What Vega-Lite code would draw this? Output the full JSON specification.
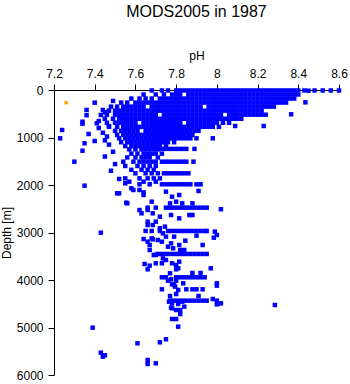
{
"$schema":"https://vega.github.io/schema/vega-lite/v6.json",
"width":285,"height":285,
"autosize":{"type":"none"},
"padding":{"left":54,"top":90,"right":11,"bottom":9},
"title":{"text":"MODS2005 in 1987","font":"Liberation Sans","fontSize":16,"fontWeight":"normal","color":"#000000","offset":29},
"config":{"view":{"stroke":null},"axis":{"grid":false,"domainColor":"#000000","tickColor":"#000000","labelColor":"#000000","titleColor":"#000000","labelFont":"Liberation Sans","titleFont":"Liberation Sans","labelFontSize":12,"titleFontSize":12,"titleFontWeight":"normal","tickSize":6,"domainWidth":1,"tickWidth":1}},
"encoding":{
"x":{"field":"p","type":"quantitative","scale":{"domain":[7.2,8.6],"nice":false,"zero":false},"axis":{"orient":"top","title":"pH","values":[7.2,7.4,7.6,7.8,8,8.2,8.4,8.6],"format":"~g","labelPadding":4,"titlePadding":5,"labelFlush":false}},
"y":{"field":"d","type":"quantitative","scale":{"domain":[0,6000],"reverse":true,"nice":false},"axis":{"title":"Depth [m]","values":[0,1000,2000,3000,4000,5000,6000],"format":"d","labelPadding":5,"titlePadding":3,"labelFlush":false}}
},
"layer":[
{"data":{"values":[
{"p":7.68,"d":10},{"p":7.73,"d":10},{"p":7.76,"d":10},{"p":7.80,"d":10},{"p":7.82,"d":10},{"p":7.84,"d":10},{"p":7.86,"d":10},{"p":7.88,"d":10},{"p":7.90,"d":10},{"p":7.92,"d":10},{"p":7.94,"d":10},{"p":7.96,"d":10},{"p":7.98,"d":10},{"p":8.00,"d":10},{"p":8.02,"d":10},{"p":8.04,"d":10},{"p":8.06,"d":10},{"p":8.08,"d":10},{"p":8.10,"d":10},{"p":8.12,"d":10},{"p":8.14,"d":10},{"p":8.16,"d":10},{"p":8.18,"d":10},{"p":8.20,"d":10},{"p":8.22,"d":10},{"p":8.24,"d":10},{"p":8.26,"d":10},{"p":8.28,"d":10},{"p":8.30,"d":10},{"p":8.32,"d":10},{"p":8.34,"d":10},{"p":8.36,"d":10},{"p":8.38,"d":10},{"p":8.40,"d":10},{"p":8.43,"d":10},{"p":8.45,"d":15},{"p":8.48,"d":10},{"p":8.52,"d":10},{"p":8.56,"d":10},{"p":8.60,"d":10},
{"p":7.64,"d":95},{"p":7.70,"d":95},{"p":7.74,"d":95},{"p":7.78,"d":95},{"p":7.80,"d":95},{"p":7.82,"d":95},{"p":7.86,"d":95},{"p":7.88,"d":95},{"p":7.90,"d":95},{"p":7.92,"d":95},{"p":7.94,"d":95},{"p":7.96,"d":95},{"p":7.98,"d":95},{"p":8.00,"d":95},{"p":8.02,"d":95},{"p":8.04,"d":95},{"p":8.06,"d":95},{"p":8.08,"d":95},{"p":8.10,"d":95},{"p":8.12,"d":95},{"p":8.14,"d":95},{"p":8.16,"d":95},{"p":8.18,"d":95},{"p":8.20,"d":95},{"p":8.22,"d":95},{"p":8.24,"d":95},{"p":8.26,"d":95},{"p":8.28,"d":95},{"p":8.30,"d":95},{"p":8.32,"d":95},{"p":8.34,"d":95},{"p":8.36,"d":95},{"p":8.38,"d":95},{"p":8.40,"d":95},
{"p":7.58,"d":180},{"p":7.62,"d":180},{"p":7.65,"d":180},{"p":7.68,"d":180},{"p":7.72,"d":180},{"p":7.74,"d":180},{"p":7.76,"d":180},{"p":7.78,"d":180},{"p":7.80,"d":180},{"p":7.82,"d":180},{"p":7.84,"d":180},{"p":7.86,"d":180},{"p":7.88,"d":180},{"p":7.90,"d":180},{"p":7.92,"d":180},{"p":7.94,"d":180},{"p":7.96,"d":180},{"p":7.98,"d":180},{"p":8.00,"d":180},{"p":8.02,"d":180},{"p":8.04,"d":180},{"p":8.06,"d":180},{"p":8.08,"d":180},{"p":8.10,"d":180},{"p":8.12,"d":180},{"p":8.14,"d":180},{"p":8.16,"d":180},{"p":8.18,"d":180},{"p":8.20,"d":180},{"p":8.22,"d":180},{"p":8.24,"d":180},{"p":8.26,"d":180},{"p":8.28,"d":180},{"p":8.30,"d":180},{"p":8.32,"d":180},{"p":8.34,"d":180},{"p":8.36,"d":180},{"p":8.38,"d":180},
{"p":7.53,"d":265},{"p":7.56,"d":265},{"p":7.60,"d":265},{"p":7.62,"d":265},{"p":7.64,"d":265},{"p":7.66,"d":265},{"p":7.68,"d":265},{"p":7.70,"d":265},{"p":7.72,"d":265},{"p":7.74,"d":265},{"p":7.76,"d":265},{"p":7.78,"d":265},{"p":7.80,"d":265},{"p":7.82,"d":265},{"p":7.84,"d":265},{"p":7.86,"d":265},{"p":7.88,"d":265},{"p":7.90,"d":265},{"p":7.92,"d":265},{"p":7.94,"d":265},{"p":7.96,"d":265},{"p":7.98,"d":265},{"p":8.00,"d":265},{"p":8.02,"d":265},{"p":8.04,"d":265},{"p":8.06,"d":265},{"p":8.08,"d":265},{"p":8.10,"d":265},{"p":8.12,"d":265},{"p":8.14,"d":265},{"p":8.16,"d":265},{"p":8.18,"d":265},{"p":8.20,"d":265},{"p":8.22,"d":265},{"p":8.24,"d":265},{"p":8.26,"d":265},{"p":8.28,"d":265},{"p":8.30,"d":265},{"p":8.32,"d":265},{"p":8.34,"d":265},{"p":8.435,"d":260},
{"p":7.48,"d":350},{"p":7.51,"d":350},{"p":7.54,"d":350},{"p":7.56,"d":350},{"p":7.58,"d":350},{"p":7.60,"d":350},{"p":7.62,"d":350},{"p":7.64,"d":350},{"p":7.68,"d":350},{"p":7.70,"d":350},{"p":7.72,"d":350},{"p":7.74,"d":350},{"p":7.76,"d":350},{"p":7.78,"d":350},{"p":7.80,"d":350},{"p":7.82,"d":350},{"p":7.84,"d":350},{"p":7.86,"d":350},{"p":7.88,"d":350},{"p":7.90,"d":350},{"p":7.92,"d":350},{"p":7.96,"d":350},{"p":7.98,"d":350},{"p":8.00,"d":350},{"p":8.02,"d":350},{"p":8.04,"d":350},{"p":8.06,"d":350},{"p":8.08,"d":350},{"p":8.10,"d":350},{"p":8.12,"d":350},{"p":8.14,"d":350},{"p":8.16,"d":350},{"p":8.18,"d":350},{"p":8.20,"d":350},{"p":8.22,"d":350},{"p":8.24,"d":350},{"p":8.26,"d":350},{"p":8.28,"d":350},
{"p":7.47,"d":435},{"p":7.50,"d":435},{"p":7.52,"d":435},{"p":7.54,"d":435},{"p":7.56,"d":435},{"p":7.58,"d":435},{"p":7.60,"d":435},{"p":7.62,"d":435},{"p":7.64,"d":435},{"p":7.66,"d":435},{"p":7.68,"d":435},{"p":7.70,"d":435},{"p":7.72,"d":435},{"p":7.74,"d":435},{"p":7.76,"d":435},{"p":7.78,"d":435},{"p":7.80,"d":435},{"p":7.82,"d":435},{"p":7.84,"d":435},{"p":7.86,"d":435},{"p":7.88,"d":435},{"p":7.90,"d":435},{"p":7.92,"d":435},{"p":7.94,"d":435},{"p":7.96,"d":435},{"p":7.98,"d":435},{"p":8.00,"d":435},{"p":8.02,"d":435},{"p":8.04,"d":435},{"p":8.06,"d":435},{"p":8.08,"d":435},{"p":8.10,"d":435},{"p":8.12,"d":435},{"p":8.14,"d":435},{"p":8.16,"d":435},{"p":8.18,"d":435},{"p":8.20,"d":435},{"p":8.22,"d":435},
{"p":7.46,"d":520},{"p":7.50,"d":520},{"p":7.52,"d":520},{"p":7.54,"d":520},{"p":7.56,"d":520},{"p":7.58,"d":520},{"p":7.60,"d":520},{"p":7.62,"d":520},{"p":7.64,"d":520},{"p":7.66,"d":520},{"p":7.68,"d":520},{"p":7.70,"d":520},{"p":7.74,"d":520},{"p":7.76,"d":520},{"p":7.78,"d":520},{"p":7.80,"d":520},{"p":7.82,"d":520},{"p":7.84,"d":520},{"p":7.86,"d":520},{"p":7.88,"d":520},{"p":7.90,"d":520},{"p":7.92,"d":520},{"p":7.94,"d":520},{"p":7.96,"d":520},{"p":7.98,"d":520},{"p":8.00,"d":520},{"p":8.02,"d":520},{"p":8.06,"d":520},{"p":8.08,"d":520},{"p":8.10,"d":520},{"p":8.12,"d":520},{"p":8.14,"d":520},{"p":8.16,"d":520},{"p":8.18,"d":520},{"p":8.20,"d":520},{"p":8.22,"d":520},{"p":8.24,"d":520},{"p":8.365,"d":512},
{"p":7.45,"d":605},{"p":7.49,"d":605},{"p":7.52,"d":605},{"p":7.54,"d":605},{"p":7.56,"d":605},{"p":7.58,"d":605},{"p":7.60,"d":605},{"p":7.62,"d":605},{"p":7.64,"d":605},{"p":7.66,"d":605},{"p":7.68,"d":605},{"p":7.70,"d":605},{"p":7.72,"d":605},{"p":7.74,"d":605},{"p":7.76,"d":605},{"p":7.78,"d":605},{"p":7.80,"d":605},{"p":7.82,"d":605},{"p":7.84,"d":605},{"p":7.86,"d":605},{"p":7.88,"d":605},{"p":7.90,"d":605},{"p":7.92,"d":605},{"p":7.94,"d":605},{"p":7.96,"d":605},{"p":7.98,"d":605},{"p":8.00,"d":605},{"p":8.02,"d":605},{"p":8.04,"d":605},{"p":8.06,"d":605},{"p":8.08,"d":605},{"p":8.10,"d":605},{"p":8.12,"d":605},
{"p":7.46,"d":690},{"p":7.50,"d":690},{"p":7.52,"d":690},{"p":7.54,"d":690},{"p":7.56,"d":690},{"p":7.58,"d":690},{"p":7.60,"d":690},{"p":7.64,"d":690},{"p":7.66,"d":690},{"p":7.68,"d":690},{"p":7.70,"d":690},{"p":7.72,"d":690},{"p":7.74,"d":690},{"p":7.76,"d":690},{"p":7.78,"d":690},{"p":7.80,"d":690},{"p":7.82,"d":690},{"p":7.86,"d":690},{"p":7.88,"d":690},{"p":7.90,"d":690},{"p":7.92,"d":690},{"p":7.94,"d":690},{"p":7.96,"d":690},{"p":7.98,"d":690},{"p":8.00,"d":690},{"p":8.03,"d":690},{"p":8.06,"d":690},
{"p":7.47,"d":775},{"p":7.51,"d":775},{"p":7.54,"d":775},{"p":7.56,"d":775},{"p":7.58,"d":775},{"p":7.60,"d":775},{"p":7.62,"d":775},{"p":7.64,"d":775},{"p":7.66,"d":775},{"p":7.68,"d":775},{"p":7.70,"d":775},{"p":7.72,"d":775},{"p":7.74,"d":775},{"p":7.76,"d":775},{"p":7.78,"d":775},{"p":7.80,"d":775},{"p":7.82,"d":775},{"p":7.84,"d":775},{"p":7.86,"d":775},{"p":7.88,"d":775},{"p":7.90,"d":775},{"p":7.92,"d":775},{"p":7.94,"d":775},{"p":7.96,"d":775},{"p":7.98,"d":775},{"p":8.01,"d":775},{"p":8.09,"d":758},{"p":8.23,"d":758},
{"p":7.50,"d":860},{"p":7.53,"d":860},{"p":7.55,"d":860},{"p":7.57,"d":860},{"p":7.59,"d":860},{"p":7.61,"d":860},{"p":7.65,"d":860},{"p":7.67,"d":860},{"p":7.69,"d":860},{"p":7.71,"d":860},{"p":7.73,"d":860},{"p":7.75,"d":860},{"p":7.77,"d":860},{"p":7.79,"d":860},{"p":7.81,"d":860},{"p":7.83,"d":860},{"p":7.85,"d":860},{"p":7.87,"d":860},{"p":7.89,"d":860},{"p":7.91,"d":860},
{"p":7.51,"d":945},{"p":7.54,"d":945},{"p":7.56,"d":945},{"p":7.58,"d":945},{"p":7.60,"d":945},{"p":7.62,"d":945},{"p":7.64,"d":945},{"p":7.66,"d":945},{"p":7.68,"d":945},{"p":7.70,"d":945},{"p":7.72,"d":945},{"p":7.74,"d":945},{"p":7.76,"d":945},{"p":7.78,"d":945},{"p":7.80,"d":945},{"p":7.82,"d":945},{"p":7.84,"d":945},{"p":7.86,"d":945},{"p":7.88,"d":945},
{"p":7.52,"d":1017},{"p":7.55,"d":1017},{"p":7.57,"d":1017},{"p":7.59,"d":1017},{"p":7.61,"d":1017},{"p":7.63,"d":1017},{"p":7.65,"d":1017},{"p":7.67,"d":1017},{"p":7.69,"d":1017},{"p":7.71,"d":1017},{"p":7.73,"d":1017},{"p":7.75,"d":1017},{"p":7.77,"d":1017},{"p":7.79,"d":1017},{"p":7.81,"d":1017},{"p":7.83,"d":1017},{"p":7.85,"d":1017},{"p":7.87,"d":1017},{"p":7.90,"d":1017},{"p":7.98,"d":1017},
{"p":7.53,"d":1100},{"p":7.56,"d":1100},{"p":7.58,"d":1100},{"p":7.60,"d":1100},{"p":7.62,"d":1100},{"p":7.64,"d":1100},{"p":7.66,"d":1100},{"p":7.68,"d":1100},{"p":7.70,"d":1100},{"p":7.72,"d":1100},{"p":7.74,"d":1100},{"p":7.76,"d":1100},{"p":7.79,"d":1100},
{"p":7.55,"d":1180},{"p":7.58,"d":1180},{"p":7.60,"d":1180},{"p":7.62,"d":1180},{"p":7.64,"d":1180},{"p":7.66,"d":1180},{"p":7.68,"d":1180},{"p":7.70,"d":1180},{"p":7.72,"d":1180},{"p":7.75,"d":1180},
{"p":7.57,"d":1250},{"p":7.60,"d":1250},{"p":7.63,"d":1250},{"p":7.65,"d":1250},{"p":7.67,"d":1250},{"p":7.69,"d":1250},{"p":7.71,"d":1250},{"p":7.73,"d":1240},{"p":7.75,"d":1240},{"p":7.77,"d":1240},{"p":7.79,"d":1240},{"p":7.81,"d":1240},{"p":7.83,"d":1240},{"p":7.85,"d":1240},{"p":7.89,"d":1240},
{"p":7.58,"d":1340},{"p":7.61,"d":1340},{"p":7.64,"d":1340},{"p":7.66,"d":1340},{"p":7.68,"d":1340},{"p":7.70,"d":1340},{"p":7.73,"d":1340},
{"p":7.56,"d":1420},{"p":7.60,"d":1420},{"p":7.63,"d":1420},{"p":7.65,"d":1420},{"p":7.67,"d":1420},{"p":7.71,"d":1420},
{"p":7.54,"d":1509},{"p":7.59,"d":1509},{"p":7.62,"d":1509},{"p":7.64,"d":1509},{"p":7.66,"d":1509},{"p":7.68,"d":1509},{"p":7.70,"d":1509},{"p":7.73,"d":1509},{"p":7.75,"d":1509},{"p":7.77,"d":1509},{"p":7.79,"d":1509},{"p":7.81,"d":1509},{"p":7.83,"d":1509},{"p":7.85,"d":1509},{"p":7.885,"d":1509},
{"p":7.55,"d":1600},{"p":7.61,"d":1600},{"p":7.64,"d":1600},{"p":7.67,"d":1600},{"p":7.70,"d":1600},
{"p":7.58,"d":1680},{"p":7.63,"d":1680},{"p":7.66,"d":1680},{"p":7.69,"d":1680},
{"p":7.60,"d":1754},{"p":7.65,"d":1754},{"p":7.68,"d":1754},{"p":7.71,"d":1754},{"p":7.74,"d":1754},{"p":7.76,"d":1754},{"p":7.78,"d":1754},{"p":7.80,"d":1754},{"p":7.82,"d":1754},{"p":7.84,"d":1754},{"p":7.86,"d":1754},
{"p":7.55,"d":1860},{"p":7.62,"d":1860},{"p":7.66,"d":1860},{"p":7.69,"d":1860},{"p":7.72,"d":1860},
{"p":7.52,"d":1873},{"p":7.57,"d":1930},{"p":7.64,"d":1930},{"p":7.70,"d":1930},{"p":7.55,"d":1965},
{"p":7.62,"d":1985},{"p":7.67,"d":1985},{"p":7.73,"d":1985},{"p":7.75,"d":1985},{"p":7.77,"d":1985},{"p":7.79,"d":1985},{"p":7.81,"d":1985},{"p":7.83,"d":1985},{"p":7.85,"d":1985},{"p":7.87,"d":1985},{"p":7.90,"d":1985},{"p":7.92,"d":1985},{"p":7.91,"d":2126},
{"p":7.58,"d":2070},{"p":7.62,"d":2105},{"p":7.59,"d":2105},{"p":7.64,"d":2154},{"p":7.64,"d":2210},{"p":7.52,"d":2175},{"p":7.51,"d":2175},{"p":7.75,"d":2140},{"p":7.78,"d":2246},{"p":7.815,"d":2210},{"p":7.77,"d":2386},{"p":7.80,"d":2351},{"p":7.83,"d":2386},{"p":7.88,"d":2386},{"p":7.68,"d":2351},{"p":7.555,"d":2372},{"p":7.56,"d":2386},{"p":7.62,"d":2526},{"p":7.63,"d":2596},{"p":7.66,"d":2526},{"p":7.685,"d":2596},{"p":7.72,"d":2667},{"p":7.70,"d":2772},{"p":7.775,"d":2632},{"p":7.815,"d":2702},{"p":7.865,"d":2632},{"p":7.88,"d":2632},{"p":7.685,"d":2842},
{"p":7.66,"d":2477},{"p":7.70,"d":2477},{"p":7.75,"d":2477},{"p":7.77,"d":2477},{"p":7.79,"d":2477},{"p":7.81,"d":2477},{"p":7.83,"d":2477},{"p":7.85,"d":2477},{"p":7.87,"d":2477},{"p":7.89,"d":2477},{"p":7.91,"d":2477},{"p":7.93,"d":2477},{"p":7.95,"d":2477},{"p":8.02,"d":2510},
{"p":7.66,"d":2772},{"p":7.66,"d":2842},{"p":7.72,"d":2912},{"p":7.745,"d":2877},
{"p":7.65,"d":2968},{"p":7.68,"d":2968},{"p":7.72,"d":2968},{"p":7.76,"d":2968},{"p":7.78,"d":2968},{"p":7.80,"d":2968},{"p":7.82,"d":2968},{"p":7.84,"d":2968},{"p":7.86,"d":2968},{"p":7.88,"d":2968},{"p":7.90,"d":2968},{"p":7.92,"d":2968},{"p":7.94,"d":2968},{"p":7.95,"d":2968},{"p":7.99,"d":2982},{"p":8.00,"d":3052},{"p":7.90,"d":3067},
{"p":7.735,"d":3017},{"p":7.64,"d":3137},{"p":7.66,"d":3193},{"p":7.67,"d":3263},{"p":7.685,"d":3144},{"p":7.71,"d":3158},{"p":7.73,"d":3193},{"p":7.75,"d":3088},{"p":7.79,"d":3088},{"p":7.76,"d":3298},{"p":7.775,"d":3228},{"p":7.785,"d":3333},{"p":7.815,"d":3263},{"p":7.82,"d":3368},{"p":7.84,"d":3368},{"p":7.845,"d":3172},{"p":7.67,"d":3368},{"p":7.68,"d":3123},{"p":7.93,"d":3263},{"p":7.985,"d":3109},
{"p":7.69,"d":3473},{"p":7.70,"d":3473},{"p":7.71,"d":3452},{"p":7.73,"d":3452},{"p":7.75,"d":3452},{"p":7.77,"d":3452},{"p":7.79,"d":3452},{"p":7.81,"d":3452},{"p":7.83,"d":3452},{"p":7.85,"d":3452},{"p":7.87,"d":3452},{"p":7.89,"d":3452},{"p":7.91,"d":3452},{"p":7.93,"d":3452},{"p":7.95,"d":3452},
{"p":7.735,"d":3544},{"p":7.75,"d":3579},{"p":7.645,"d":3663},{"p":7.66,"d":3775},{"p":7.67,"d":3698},{"p":7.70,"d":3648},{"p":7.73,"d":3648},{"p":7.78,"d":3648},{"p":7.80,"d":3684},{"p":7.81,"d":3754},{"p":7.80,"d":3775},{"p":7.815,"d":3614},{"p":7.97,"d":3754},{"p":7.77,"d":3859},{"p":7.88,"d":3852},{"p":7.92,"d":3852},
{"p":7.73,"d":3943},{"p":7.75,"d":3943},{"p":7.80,"d":3943},{"p":7.82,"d":3943},{"p":7.84,"d":3943},{"p":7.86,"d":3943},{"p":7.88,"d":3943},{"p":7.90,"d":3943},{"p":7.92,"d":3943},{"p":7.94,"d":3943},
{"p":7.76,"d":4014},{"p":7.775,"d":3985},{"p":7.80,"d":4014},{"p":7.835,"d":4070},{"p":7.78,"d":4091},{"p":7.79,"d":4105},{"p":7.795,"d":4140},{"p":7.81,"d":4210},{"p":7.80,"d":4295},{"p":7.77,"d":4337},{"p":7.91,"d":4337},{"p":8.00,"d":4070},{"p":8.00,"d":4119},
{"p":7.73,"d":4196},{"p":7.85,"d":4196},{"p":7.88,"d":4196},{"p":7.90,"d":4196},{"p":7.93,"d":4196},
{"p":7.765,"d":4456},{"p":7.78,"d":4491},{"p":7.81,"d":4505},{"p":7.83,"d":4456},{"p":7.77,"d":4435},{"p":7.79,"d":4435},{"p":7.81,"d":4435},{"p":7.83,"d":4435},{"p":7.85,"d":4435},{"p":7.87,"d":4435},{"p":7.89,"d":4435},{"p":7.91,"d":4435},{"p":7.93,"d":4435},{"p":7.95,"d":4435},{"p":7.98,"d":4400},{"p":8.00,"d":4435},{"p":8.01,"d":4491},{"p":8.00,"d":4512},{"p":8.02,"d":4491},
{"p":7.775,"d":4582},{"p":7.78,"d":4596},{"p":7.80,"d":4632},{"p":7.82,"d":4632},{"p":7.82,"d":4716},{"p":7.84,"d":4561},{"p":7.78,"d":4821},{"p":7.80,"d":4821},{"p":7.81,"d":4982},{"p":8.285,"d":4526},
{"p":7.75,"d":5248},{"p":7.72,"d":5312},{"p":7.61,"d":5333},{"p":7.66,"d":5684},{"p":7.66,"d":5768},{"p":7.70,"d":5754},{"p":7.39,"d":5003},{"p":7.43,"d":5530},{"p":7.44,"d":5614},{"p":7.45,"d":5585},{"p":7.43,"d":3004},
{"p":7.36,"d":420},{"p":7.36,"d":530},{"p":7.34,"d":667},{"p":7.34,"d":710},{"p":7.24,"d":842},{"p":7.23,"d":1017},{"p":7.34,"d":1278},{"p":7.35,"d":1122},{"p":7.30,"d":1509},{"p":7.35,"d":2014},{"p":7.40,"d":267},{"p":7.37,"d":926},{"p":7.40,"d":1074},{"p":7.41,"d":701},{"p":7.42,"d":653},{"p":7.43,"d":526},{"p":7.44,"d":421},{"p":7.45,"d":470},{"p":7.42,"d":800},{"p":7.44,"d":900},{"p":7.46,"d":980},{"p":7.47,"d":1150},{"p":7.49,"d":1300},{"p":7.45,"d":1400},{"p":7.50,"d":1560},{"p":7.48,"d":1700},{"p":7.47,"d":760},{"p":7.45,"d":1060},{"p":7.49,"d":230}
]},
"mark":{"type":"point","shape":"square","filled":true,"size":20,"color":"#0000ff","opacity":1}},
{"data":{"values":[{"p":7.26,"d":267}]},
"mark":{"type":"point","shape":"square","filled":true,"size":12,"color":"#ffa500","opacity":1}}
]
}
